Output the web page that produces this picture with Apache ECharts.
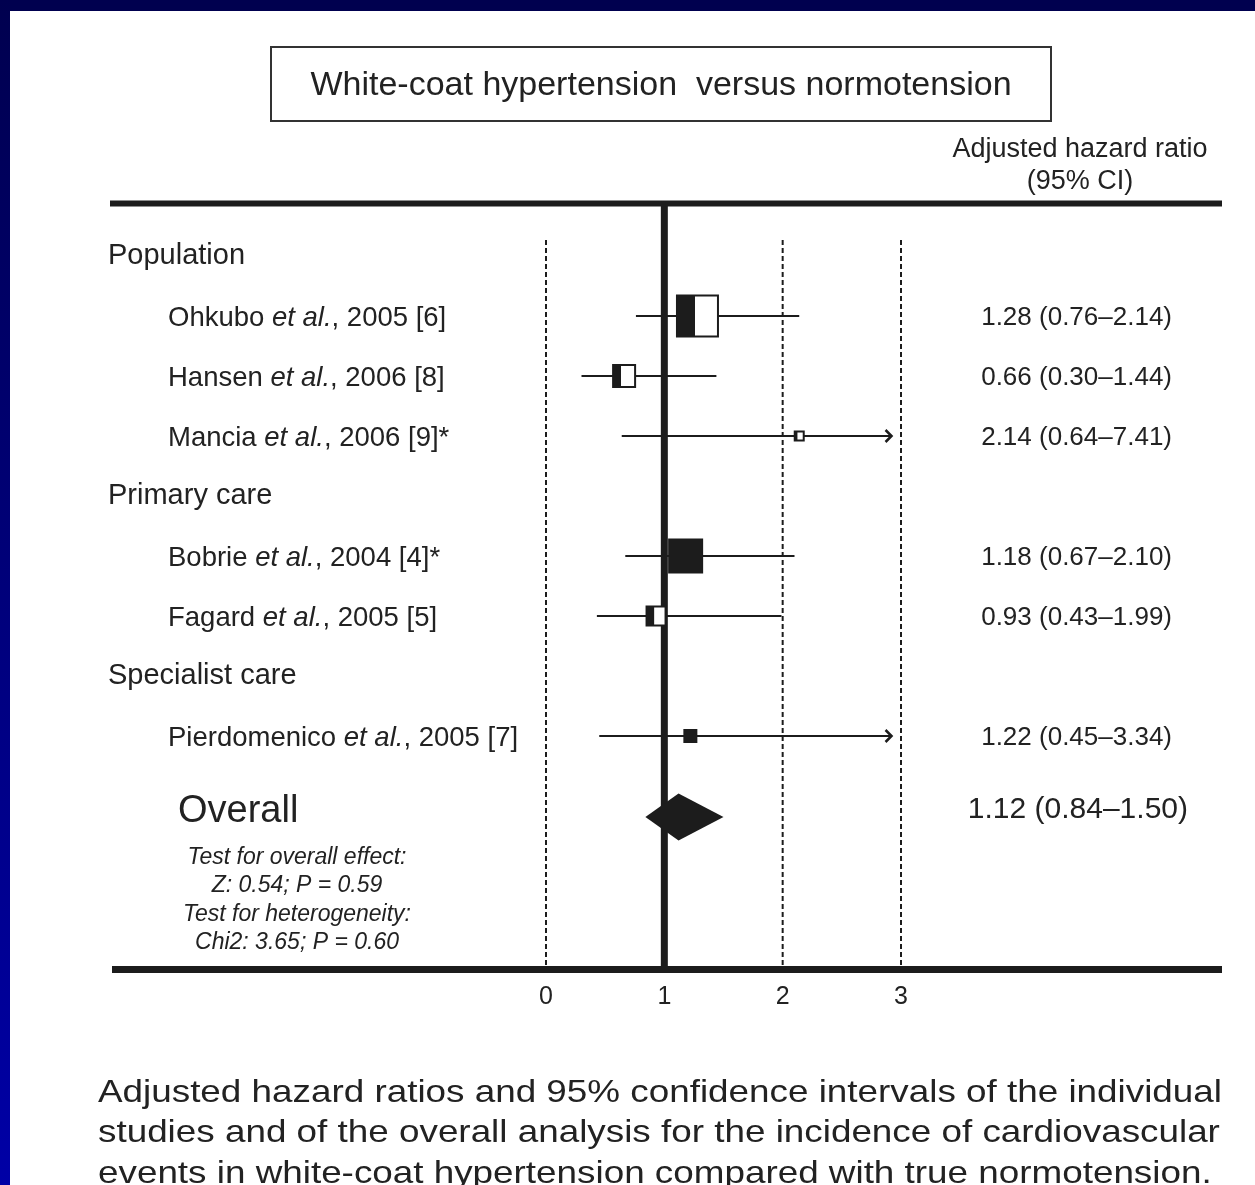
<!DOCTYPE html>
<html><head><meta charset="utf-8">
<script src="https://cdn.jsdelivr.net/npm/echarts@6/dist/echarts.min.js"></script>
<style>html,body{margin:0;padding:0;background:#fff;overflow:hidden}#c{width:1255px;height:1185px}</style>
</head><body><div id="c"></div>
<script>
// ---------------- data ----------------
const groupNames = ['Population', 'Primary care', 'Specialist care'];
const studyAuthors = ['Ohkubo', 'Hansen', 'Mancia', 'Bobrie', 'Fagard', 'Pierdomenico'];
const studyRefs = ['2005 [6]', '2006 [8]', '2006 [9]*', '2004 [4]*', '2005 [5]', '2005 [7]'];
const studyGroup = [0, 0, 0, 1, 1, 2];
const hazardRatio = [1.28, 0.66, 2.14, 1.18, 0.93, 1.22];
const ciLower = [0.76, 0.30, 0.64, 0.67, 0.43, 0.45];
const ciUpper = [2.14, 1.44, 7.41, 2.10, 1.99, 3.34];
const studyWeight = [41, 22, 9, 33, 19, 12];          // relative box size
const boxFilledShare = [0.44, 0.36, 0.3, 1, 0.4, 1];  // dark part of each box
const overallHR = [1.12];
const overallLower = [0.84];
const overallUpper = [1.50];
const xTicks = [0, 1, 2, 3];
const nullEffect = 1;
const overallTests = ['Test for overall effect:', 'Z: 0.54; P = 0.59', 'Test for heterogeneity:', 'Chi2: 3.65; P = 0.60'];
const titleText = 'White-coat hypertension  versus normotension';
const effectHeader = ['Adjusted hazard ratio', '(95% CI)'];
const captionLines = [
  'Adjusted hazard ratios and 95% confidence intervals of the individual',
  'studies and of the overall analysis for the incidence of cardiovascular',
  'events in white-coat hypertension compared with true normotension.'
];

// ---------------- layout / style ----------------
const FONT = "'Liberation Sans', Arial, Helvetica, sans-serif";
const ink = '#1c1c1c';
const txt = '#222222';
const xMin = 0, xMax = 3;
const arrowEnd = 2.92;

const rows = [];
let r = 0, lastG = -1;
studyAuthors.forEach((a, i) => {
  if (studyGroup[i] !== lastG) {
    rows.push({ type: 'group', name: groupNames[studyGroup[i]], row: r++ });
    lastG = studyGroup[i];
  }
  rows.push({ type: 'study', i: i, row: r++ });
});
const overallRow = r + 0.35;

const fmt = v => v.toFixed(2);

const studyData = rows.filter(o => o.type === 'study').map(o =>
  [hazardRatio[o.i], ciLower[o.i], ciUpper[o.i], o.row, studyWeight[o.i], boxFilledShare[o.i], o.i]);
const groupData = rows.filter(o => o.type === 'group').map(o => [0, o.row, groupNames.indexOf(o.name)]);

// caption: stretched horizontally so the longest line fills the text block
const measureCtx = document.createElement('canvas').getContext('2d');
const capFont = "32px " + FONT;
measureCtx.font = capFont;
const capWidest = Math.max.apply(null, captionLines.map(l => measureCtx.measureText(l).width));
const capScale = (1222 - 98) / capWidest;
const captionEls = captionLines.map((ln, k) => ({
  type: 'text', x: 98, y: 1093 + k * 40.5, scaleX: capScale, z: 10,
  style: { text: ln, font: capFont, fill: txt, align: 'left', verticalAlign: 'middle', textAlign: 'left', textVerticalAlign: 'middle' }
}));

function textEl(x, y, text, size, align, extra) {
  return Object.assign({ type: 'text', x: x, y: y, z: 10,
    style: { text: text, fontFamily: FONT, fontSize: size, fill: txt, align: align, verticalAlign: 'middle',
      textAlign: align, textVerticalAlign: 'middle' } }, extra || {});
}

const option = {
  animation: false,
  backgroundColor: '#ffffff',
  grid: { left: 546, right: 354, top: 196, bottom: 209 },
  xAxis: {
    type: 'value', min: xMin, max: xMax, interval: 1,
    axisLine: { show: false }, axisTick: { show: false }, splitLine: { show: false },
    axisLabel: { color: txt, fontSize: 25, fontFamily: FONT, margin: 9 }
  },
  yAxis: { type: 'value', min: -1, max: 12, inverse: true, show: false },
  graphic: [
    { type: 'rect', shape: { x: 0, y: 0, width: 1255, height: 11 }, style: { fill: '#00004f' }, z: 20 },
    { type: 'rect', shape: { x: 0, y: 0, width: 10, height: 1185 }, z: 20,
      style: { fill: new echarts.graphic.LinearGradient(0, 0, 0, 1, [{ offset: 0, color: '#00004f' }, { offset: 1, color: '#0000a6' }]) } },
    { type: 'rect', shape: { x: 271, y: 47, width: 780, height: 74 }, style: { fill: 'none', stroke: '#333', lineWidth: 2 }, z: 5 },
    textEl(661, 86, titleText, 34, 'center'),
    textEl(1080, 150, effectHeader[0], 27, 'center'),
    textEl(1080, 182, effectHeader[1], 27, 'center'),
    { type: 'line', shape: { x1: 110, y1: 203.5, x2: 1222, y2: 203.5 }, style: { stroke: ink, lineWidth: 6 }, z: 5 },
    { type: 'line', shape: { x1: 112, y1: 969.5, x2: 1222, y2: 969.5 }, style: { stroke: ink, lineWidth: 7 }, z: 5 }
  ].concat(captionEls),
  series: [
    { // reference lines at ticks
      type: 'custom', clip: false, z: 1,
      data: xTicks.map(v => [v]),
      encode: { x: 0 },
      renderItem: function (params, api) {
        const v = api.value(0);
        const x = api.coord([v, 0])[0];
        if (v === nullEffect) {
          return { type: 'line', shape: { x1: x, y1: 205, x2: x, y2: 969 }, style: { stroke: ink, lineWidth: 7 } };
        }
        return { type: 'line', shape: { x1: x, y1: 240, x2: x, y2: 965 }, style: { stroke: ink, lineWidth: 2, lineDash: [5, 3] } };
      }
    },
    { // group headers
      type: 'custom', clip: false, z: 3,
      data: groupData,
      encode: { x: 0, y: 1 },
      renderItem: function (params, api) {
        const y = api.coord([0, api.value(1)])[1];
        return { type: 'text', style: { text: groupNames[api.value(2)], x: 108, y: y, fontFamily: FONT, fontSize: 29, fill: txt,
          align: 'left', verticalAlign: 'middle' } };
      }
    },
    { // studies
      type: 'custom', clip: false, z: 4,
      data: studyData,
      encode: { x: [0, 1], y: 3 },
      renderItem: function (params, api) {
        const hr = api.value(0), lo = api.value(1), hi = api.value(2), row = api.value(3);
        const s = api.value(4), share = api.value(5), idx = api.value(6);
        const pC = api.coord([hr, row]);
        const y = pC[1];
        const clipped = hi > xMax;
        const xLo = api.coord([Math.max(lo, xMin), row])[0];
        const xHi = api.coord([clipped ? arrowEnd : hi, row])[0];
        const children = [
          { type: 'line', shape: { x1: xLo, y1: y, x2: xHi, y2: y }, style: { stroke: ink, lineWidth: 2 } }
        ];
        if (clipped) {
          children.push({ type: 'polyline', shape: { points: [[xHi - 6, y - 6], [xHi, y], [xHi - 6, y + 6]] },
            style: { stroke: ink, lineWidth: 2.5, fill: 'none' } });
        }
        children.push({ type: 'rect', shape: { x: pC[0] - s / 2, y: y - s / 2, width: s, height: s },
          style: { fill: '#fff', stroke: ink, lineWidth: 2 } });
        children.push({ type: 'rect', shape: { x: pC[0] - s / 2, y: y - s / 2, width: s * share, height: s },
          style: { fill: ink } });
        children.push({ type: 'text', style: {
          text: '{n|' + studyAuthors[idx] + ' }{i|et al.}{n|, ' + studyRefs[idx] + '}',
          x: 168, y: y + 2, align: 'left', verticalAlign: 'middle', fill: txt,
          rich: { n: { fontFamily: FONT, fontSize: 27.5, fill: txt, color: txt },
                  i: { fontFamily: FONT, fontSize: 27.5, fontStyle: 'italic', fill: txt, color: txt } } } });
        children.push({ type: 'text', style: {
          text: fmt(hr) + ' (' + fmt(lo) + '\u2013' + fmt(hi) + ')',
          x: 1172, y: y + 2, align: 'right', verticalAlign: 'middle', fontFamily: FONT, fontSize: 26, fill: txt } });
        return { type: 'group', children: children };
      }
    },
    { // overall
      type: 'custom', clip: false, z: 4,
      data: [[overallHR[0], overallLower[0], overallUpper[0], overallRow]],
      encode: { x: [0, 1, 2], y: 3 },
      renderItem: function (params, api) {
        const hr = api.value(0), lo = api.value(1), hi = api.value(2), row = api.value(3);
        const pC = api.coord([hr, row]);
        const xL = api.coord([lo, row])[0], xR = api.coord([hi, row])[0];
        const y = pC[1], h = 23.5;
        const children = [
          { type: 'polygon', shape: { points: [[xL, y], [pC[0], y - h], [xR, y], [pC[0], y + h]] }, style: { fill: ink } },
          { type: 'text', style: { text: 'Overall', x: 178, y: y - 5, align: 'left', verticalAlign: 'middle',
            fontFamily: FONT, fontSize: 38, fill: txt } },
          { type: 'text', style: { text: fmt(hr) + ' (' + fmt(lo) + '\u2013' + fmt(hi) + ')', x: 1188, y: y - 7,
            align: 'right', verticalAlign: 'middle', fontFamily: FONT, fontSize: 30, fill: txt } }
        ];
        const offs = [41, 69, 98, 126];
        overallTests.forEach((t, k) => {
          children.push({ type: 'text', style: { text: t, x: 297, y: y + offs[k], align: 'center', verticalAlign: 'middle',
            fontFamily: FONT, fontSize: 23, fontStyle: 'italic', fill: txt } });
        });
        return { type: 'group', children: children };
      }
    }
  ]
};

const chart = echarts.init(document.getElementById('c'));
chart.setOption(option);
</script>
</body></html>
